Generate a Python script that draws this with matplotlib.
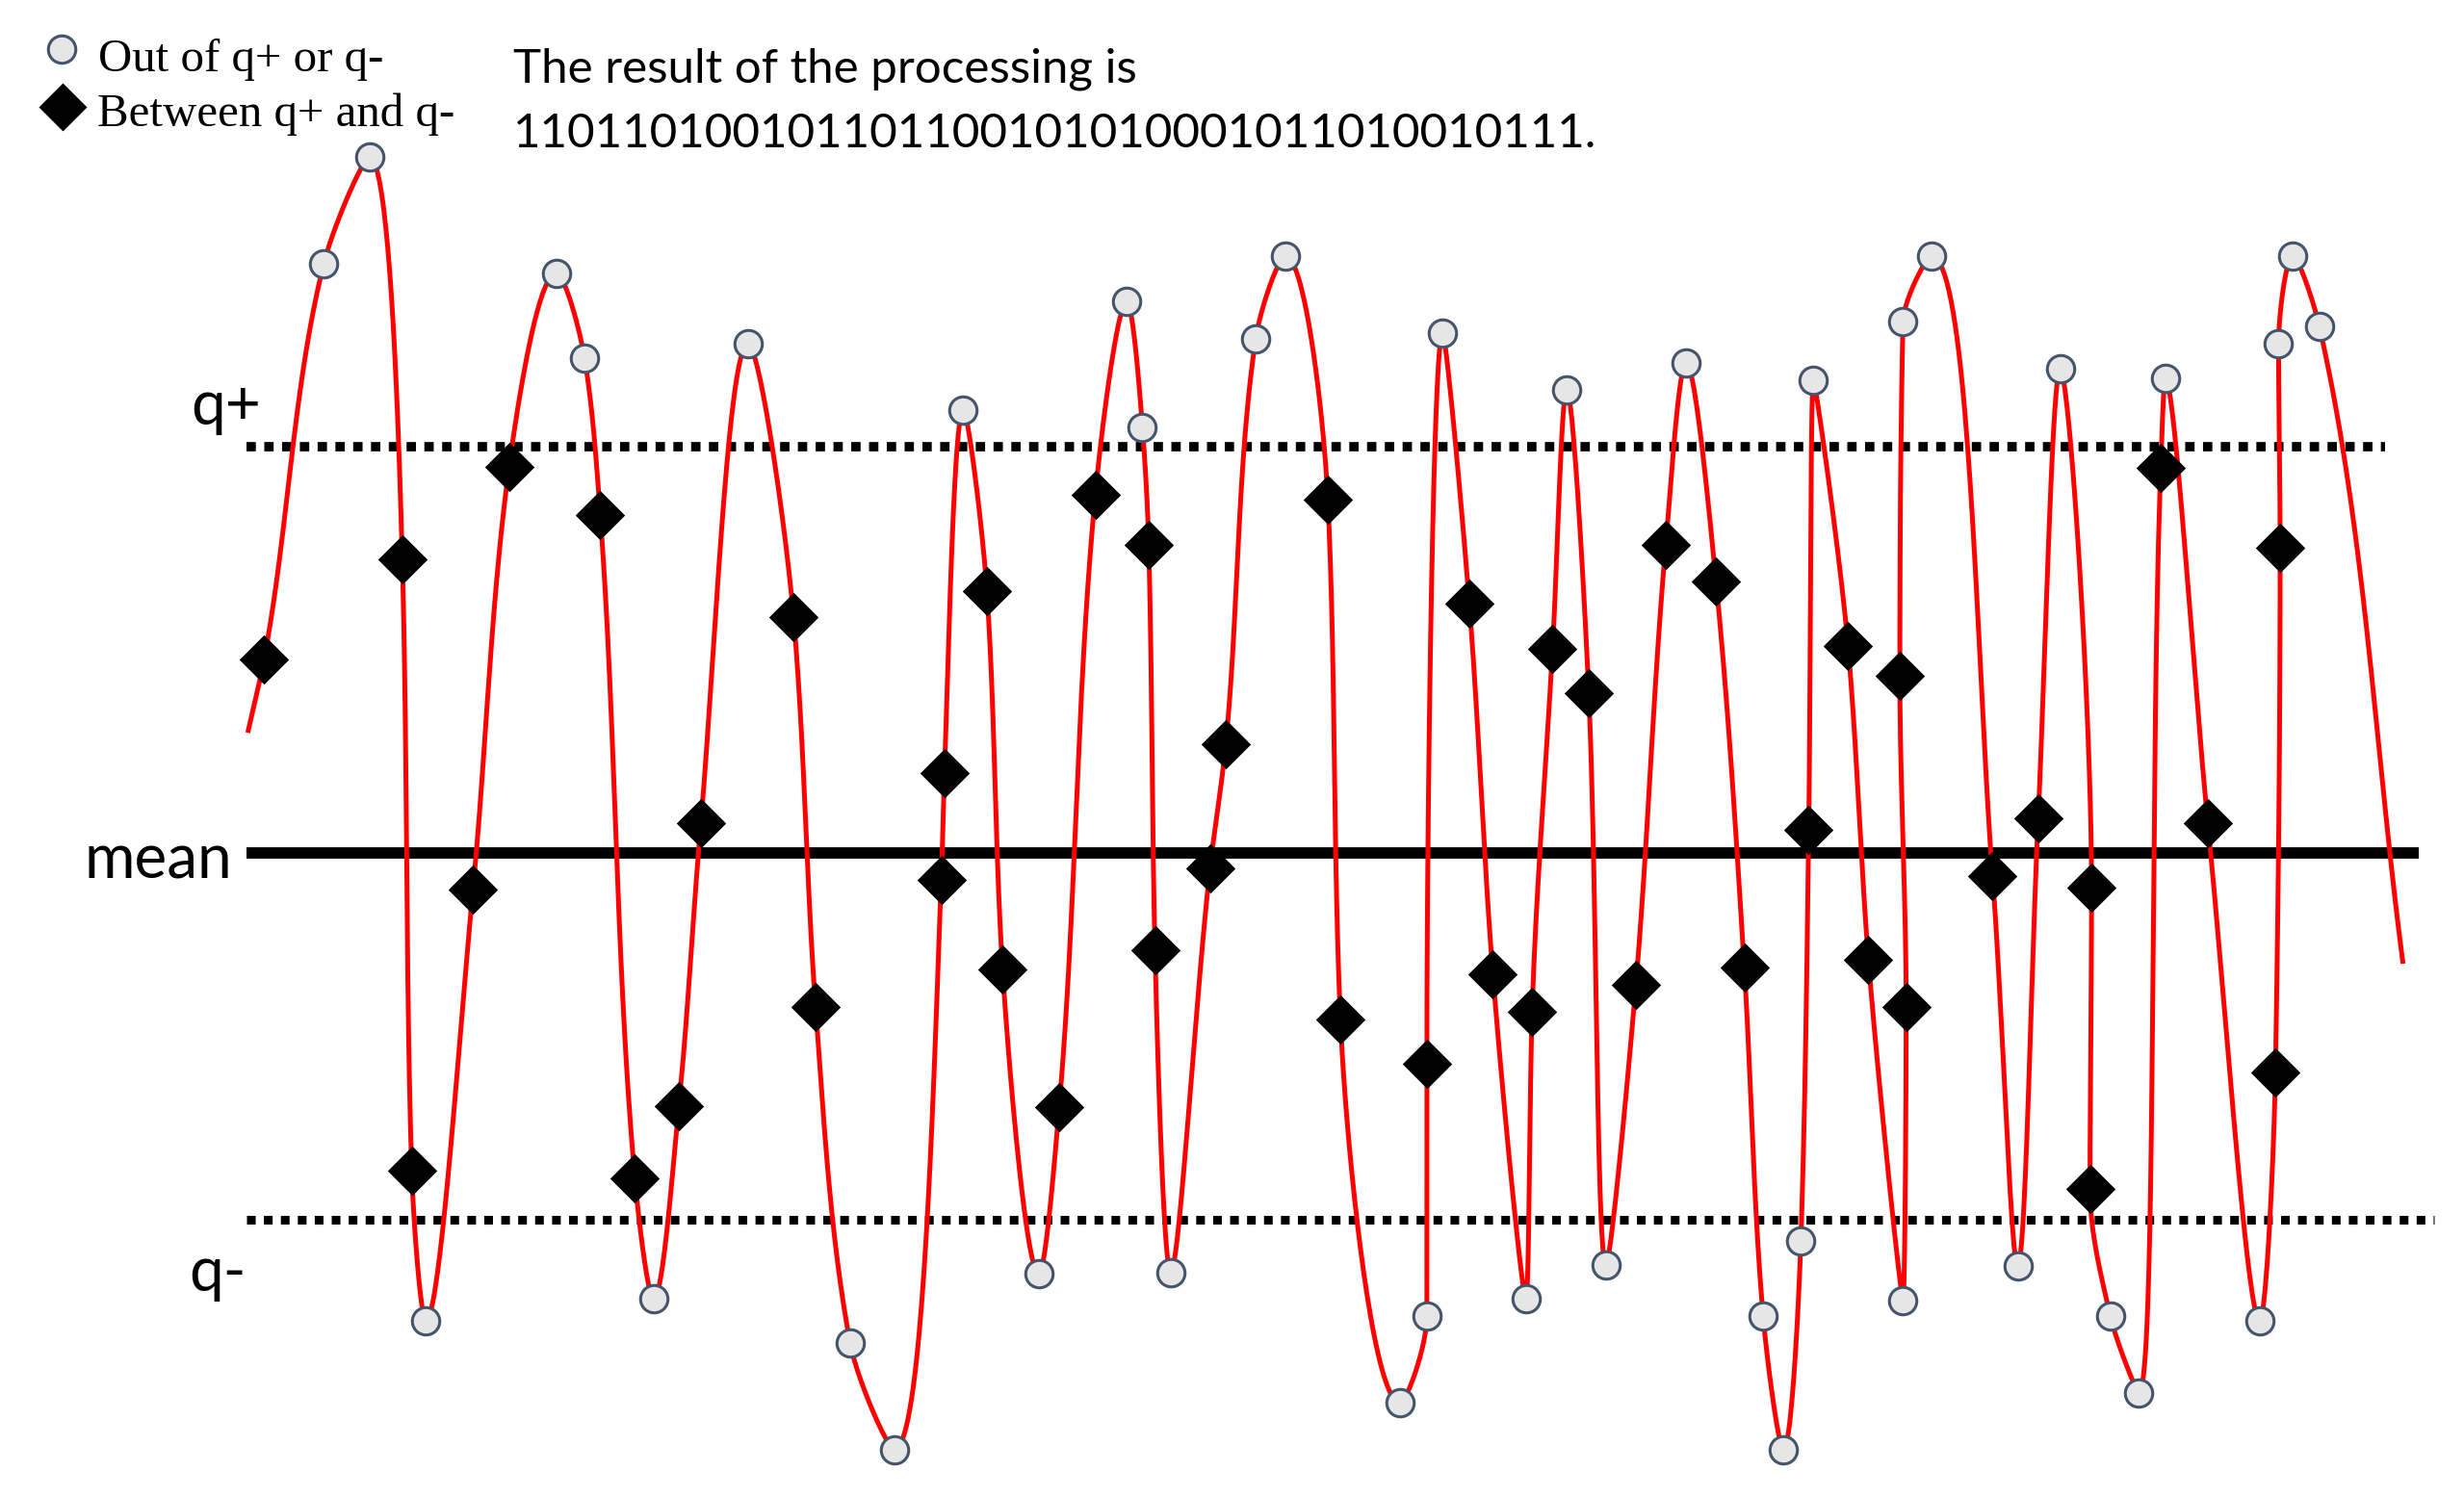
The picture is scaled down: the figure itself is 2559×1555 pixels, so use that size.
import numpy as np
import matplotlib
matplotlib.use("Agg")
import matplotlib.pyplot as plt
from matplotlib.path import Path

# levels (signal units, mean = 0)
q_plus = 258.7
q_minus = -233.7
mean_level = 0.0

# sampled points outside q+/q-  (t, value)
circ_t = [206, 235, 271, 354, 372, 416, 476, 541, 569, 613, 661, 717, 727, 745,
          799, 818, 891, 908, 918, 971, 997, 1022, 1073, 1122, 1135, 1146, 1154,
          1211, 1211, 1229, 1284, 1311, 1343, 1361, 1378, 1438, 1450, 1459, 1476]
circ_v = [375, 443, -298, 369, 315, -284, 324, -312, -380, 282, -268, 351, 271, -267,
          327, 380, -350, -295, 331, -284, 295, -262, 312, -295, -380, -247, 301,
          -285, 338, 380, -263, 308, -295, -344, 302, -298, 324, 380, 335]

# sampled points between q+ and q-
dia_t = [168, 256, 262, 301, 324, 382, 404, 432, 446, 505, 519, 599, 601, 628, 638,
         674, 697, 731, 735, 770, 780, 845, 853, 908, 935, 950, 975, 988, 1011, 1041,
         1060, 1092, 1110, 1151, 1176, 1189, 1213, 1209, 1268, 1297, 1331, 1330, 1375,
         1405, 1448, 1451]
dia_v = [123, 187, -202, -23, 246, 215, -207, -161, 19, 150, -98, -17, 51, 167, -74,
         -162, 228, 196, -62, -10, 69, 225, -106, -134, 159, -77, -101, 130, 102, -84,
         196, 173, -73, 15, 132, -68, -98, 113, -15, 22, -22, -214, 245,
         19, -140, 194]

# the red signal, waypoints in drawing order
sig_t = [158, 168, 206, 235, 256, 262, 271, 301, 324, 354, 372, 382, 404, 416, 432,
         446, 476, 505, 519, 541, 569, 599, 601, 613, 628, 638, 661, 674, 697, 717,
         727, 731, 735, 745, 770, 780, 799, 818, 845, 853, 891, 908, 908, 918, 935,
         950, 971, 975, 988, 997, 1011, 1022, 1041, 1060, 1073, 1092, 1110, 1122,
         1135, 1146, 1151, 1154, 1176, 1189, 1211, 1213, 1209, 1211, 1229, 1268,
         1284, 1297, 1311, 1331, 1330, 1343, 1361, 1375, 1378, 1405, 1438, 1448,
         1451, 1450, 1459, 1476, 1529]
sig_v = [78, 123, 375, 443, 187, -202, -298, -23, 246, 369, 315, 215, -207, -284, -161,
         19, 324, 150, -98, -312, -380, -17, 51, 282, 167, -74, -268, -162, 228, 351,
         271, 196, -62, -267, -10, 69, 327, 380, 225, -106, -350, -295, -134, 331, 159,
         -77, -284, -101, 130, 295, 102, -262, -84, 196, 312, 173, -73, -295,
         -380, -247, 15, 301, 132, -68, -285, -98, 113, 338, 380, -15,
         -263, 22, 308, -22, -214, -295, -344, 245, 302, 19, -298, -140,
         194, 324, 380, 335, -69]

result_bits = "110110100101101100101010001011010010111"


def pchip_slopes(s, y):
    h = np.diff(s)
    d = np.diff(y) / h
    m = np.zeros_like(y)
    m[0], m[-1] = d[0], d[-1]
    for k in range(1, len(y) - 1):
        if d[k - 1] * d[k] > 0:
            w1 = 2 * h[k] + h[k - 1]
            w2 = h[k] + 2 * h[k - 1]
            m[k] = (w1 + w2) / (w1 / d[k - 1] + w2 / d[k])
    return m


def smooth_path(x, y, n=40):
    # draw the signal smoothly through its waypoints (shape-preserving cubic)
    x = np.asarray(x, float)
    y = np.asarray(y, float)
    s = np.concatenate([[0], np.cumsum(np.hypot(np.diff(x), np.diff(y)))])
    mx, my = pchip_slopes(s, x), pchip_slopes(s, y)
    xs, ys = [], []
    for k in range(len(s) - 1):
        h = s[k + 1] - s[k]
        u = np.linspace(0, 1, n, endpoint=False)
        h00 = 2 * u**3 - 3 * u**2 + 1
        h10 = u**3 - 2 * u**2 + u
        h01 = -2 * u**3 + 3 * u**2
        h11 = u**3 - u**2
        xs.append(h00 * x[k] + h10 * h * mx[k] + h01 * x[k + 1] + h11 * h * mx[k + 1])
        ys.append(h00 * y[k] + h10 * h * my[k] + h01 * y[k + 1] + h11 * h * my[k + 1])
    xs.append([x[-1]])
    ys.append([y[-1]])
    return np.concatenate(xs), np.concatenate(ys)


diamond = Path([(0, 1), (1, 0), (0, -1), (-1, 0), (0, 1)],
               [Path.MOVETO, Path.LINETO, Path.LINETO, Path.LINETO, Path.CLOSEPOLY])

fig = plt.figure(figsize=(25.59, 15.55), dpi=100)
ax = fig.add_axes([0, 0, 1, 1])
ax.set_xlim(0, 1568)
ax.set_ylim(-410, 543)
ax.axis("off")

# reference levels
ax.plot([157, 1518], [q_plus, q_plus], color="black", lw=7,
        dashes=(1.0, 0.9), dash_capstyle="butt", zorder=1)
ax.plot([157, 1549], [q_minus, q_minus], color="black", lw=6.5,
        dashes=(1.0, 0.95), dash_capstyle="butt", zorder=1)
ax.plot([157, 1539], [mean_level, mean_level], color="black", lw=8.5,
        solid_capstyle="butt", zorder=1)

# signal
cx, cy = smooth_path(sig_t, sig_v)
ax.plot(cx, cy, color="#FF0000", lw=3.6, zorder=2)

ax.plot(dia_t, dia_v, ls="none", marker=diamond, ms=37, color="black",
        mew=0, zorder=3)
ax.plot(circ_t, circ_v, ls="none", marker="o", ms=20.5, mfc="#E6E6E6",
        mec="#44546A", mew=2.2, zorder=4)

# level labels
lab_font = dict(family=["Lato", "DejaVu Sans"], fontsize=46, color="black")
ax.text(166, 272.8, "q+", ha="right", va="baseline", **lab_font)
ax.text(147.5, -16.4, "mean", ha="right", va="baseline", **lab_font)
ax.text(157, -278.7, "q-", ha="right", va="baseline", **lab_font)

# legend
ax.plot([39.5], [511.5], ls="none", marker="o", ms=20.5, mfc="#E6E6E6",
        mec="#44546A", mew=2.2)
ax.plot([39.8], [475.2], ls="none", marker=diamond, ms=36, color="black", mew=0)
leg_font = dict(family=["Liberation Serif", "DejaVu Serif"], fontsize=35.2)
ax.text(62.5, 497.7, "Out of q+ or q-", ha="left", va="baseline", **leg_font)
ax.text(61.9, 463.0, "Between q+ and q-", ha="left", va="baseline", **leg_font)

# result text
res_font = dict(family=["Lato", "DejaVu Sans"], fontsize=35.5)
ax.text(326.6, 490.3, "The result of the processing is", ha="left",
        va="baseline", **res_font)
ax.text(326.6, 449.0, result_bits + ".", ha="left", va="baseline", **res_font)

fig.savefig("out.png", dpi=100)
